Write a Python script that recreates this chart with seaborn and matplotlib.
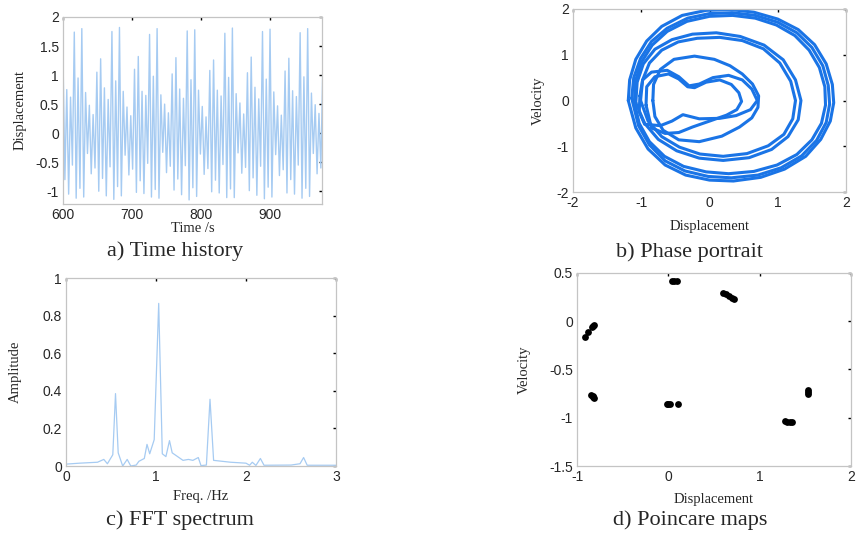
import numpy as np
import pandas as pd
import seaborn as sns
import matplotlib.pyplot as plt
from matplotlib.ticker import FormatStrFormatter

# ---------------- Data ----------------
# a) time history: successive maxima / minima of the displacement signal
th_start = 600.0
th_half_cycle = 2.725          # s between a maximum and the next minimum
th_peaks = [
    1.30, 0.75, 0.62, 1.74, 0.95, 1.80, 0.70, 0.48, 0.32, 1.05,
    1.28, 0.78, 0.58, 1.75, 0.90, 1.82, 0.72, 0.45, 0.30, 1.10,
    1.32, 0.72, 0.65, 1.70, 0.98, 1.80, 0.66, 0.50, 0.35, 1.02,
    1.30, 0.76, 0.60, 1.76, 0.92, 1.78, 0.74, 0.46, 0.28, 1.08,
    1.26, 0.74, 0.64, 1.72, 0.96, 1.81, 0.68, 0.52, 0.33, 1.04,
    1.31, 0.79, 0.59, 1.75, 0.93, 1.79, 0.71, 0.47, 0.31, 1.07,
    1.29, 0.73, 0.63, 1.73, 0.97, 1.80, 0.69, 0.49, 0.34, 1.06,
]
th_troughs = [
    -0.80, -1.05, -0.55, -1.12, -0.95, -1.10, -0.35, -0.70, -0.60, -1.00,
    -0.78, -1.08, -0.58, -1.14, -0.92, -1.08, -0.38, -0.72, -0.62, -1.02,
    -0.82, -1.04, -0.52, -1.10, -0.97, -1.12, -0.33, -0.68, -0.57, -0.98,
    -0.79, -1.06, -0.56, -1.15, -0.94, -1.09, -0.36, -0.71, -0.61, -1.01,
    -0.81, -1.03, -0.54, -1.11, -0.96, -1.11, -0.34, -0.69, -0.59, -0.99,
    -0.77, -1.07, -0.57, -1.13, -0.93, -1.10, -0.37, -0.73, -0.63, -1.03,
    -0.80, -1.05, -0.55, -1.12, -0.95, -1.09, -0.35, -0.70, -0.60, -1.00,
]

# b) phase portrait: traced loops (displacement, velocity)
loop_outer_a = [(-1.19, 0.00), (-1.17, 0.45), (-1.08, 0.90), (-0.92, 1.30), (-0.70, 1.62),
                (-0.40, 1.86), (-0.05, 1.97), (0.30, 1.99), (0.65, 1.93), (1.00, 1.78),
                (1.30, 1.55), (1.54, 1.22), (1.71, 0.80), (1.80, 0.35), (1.82, -0.05),
                (1.77, -0.45), (1.63, -0.85), (1.41, -1.22), (1.10, -1.50), (0.75, -1.68),
                (0.35, -1.76), (0.00, -1.74), (-0.35, -1.63), (-0.65, -1.41), (-0.90, -1.06),
                (-1.08, -0.60), (-1.19, 0.00)]
loop_outer_b = [(-1.14, 0.05), (-1.11, 0.50), (-1.01, 0.92), (-0.85, 1.29), (-0.62, 1.58),
                (-0.32, 1.80), (0.00, 1.90), (0.33, 1.92), (0.67, 1.86), (1.00, 1.71),
                (1.28, 1.48), (1.50, 1.16), (1.66, 0.76), (1.74, 0.33), (1.76, -0.08),
                (1.71, -0.48), (1.57, -0.87), (1.35, -1.21), (1.05, -1.47), (0.71, -1.63),
                (0.32, -1.69), (-0.02, -1.66), (-0.36, -1.54), (-0.65, -1.32), (-0.88, -0.97),
                (-1.04, -0.55), (-1.14, 0.05)]
loop_outer_c = [(-1.10, -0.05), (-1.09, 0.40), (-1.00, 0.83), (-0.84, 1.21), (-0.62, 1.51),
                (-0.33, 1.73), (0.00, 1.84), (0.34, 1.86), (0.67, 1.80), (0.98, 1.65),
                (1.25, 1.42), (1.46, 1.10), (1.61, 0.72), (1.69, 0.30), (1.70, -0.10),
                (1.64, -0.50), (1.50, -0.86), (1.28, -1.18), (0.99, -1.41), (0.65, -1.55),
                (0.28, -1.60), (-0.05, -1.56), (-0.38, -1.44), (-0.66, -1.22), (-0.88, -0.90),
                (-1.03, -0.50), (-1.10, -0.05)]
loop_mid_a = [(-1.08, -0.05), (-1.06, 0.40), (-0.97, 0.80), (-0.80, 1.12), (-0.55, 1.33),
              (-0.25, 1.45), (0.10, 1.48), (0.45, 1.40), (0.80, 1.21), (1.08, 0.89),
              (1.26, 0.45), (1.34, 0.00), (1.30, -0.42), (1.15, -0.79), (0.91, -1.07),
              (0.58, -1.25), (0.20, -1.31), (-0.15, -1.26), (-0.48, -1.10), (-0.75, -0.85),
              (-0.95, -0.50), (-1.08, -0.05)]
loop_mid_b = [(-1.01, 0.00), (-0.98, 0.45), (-0.88, 0.82), (-0.70, 1.10), (-0.46, 1.28),
              (-0.18, 1.36), (0.15, 1.38), (0.48, 1.31), (0.79, 1.13), (1.03, 0.82),
              (1.19, 0.42), (1.26, 0.00), (1.22, -0.40), (1.09, -0.74), (0.86, -0.99),
              (0.55, -1.16), (0.20, -1.22), (-0.14, -1.17), (-0.44, -1.02), (-0.70, -0.79),
              (-0.90, -0.45), (-1.01, 0.00)]
loop_inner = [(-0.83, 0.00), (-0.82, 0.35), (-0.72, 0.68), (-0.52, 0.90), (-0.22, 0.97),
              (0.07, 0.90), (0.30, 0.76), (0.48, 0.58), (0.63, 0.36), (0.72, 0.10),
              (0.71, -0.15), (0.62, -0.38), (0.44, -0.58), (0.18, -0.78), (-0.15, -0.90),
              (-0.45, -0.86), (-0.68, -0.65), (-0.80, -0.35), (-0.83, 0.00)]
loop_dip_a = [(-1.02, 0.10), (-0.98, 0.45), (-0.85, 0.62), (-0.62, 0.66), (-0.45, 0.52),
              (-0.30, 0.32), (-0.15, 0.36), (0.05, 0.50), (0.28, 0.55), (0.48, 0.45),
              (0.62, 0.25), (0.70, 0.00), (0.60, -0.20), (0.39, -0.33), (0.15, -0.39),
              (-0.15, -0.40), (-0.39, -0.31), (-0.55, -0.45), (-0.72, -0.55), (-0.95, -0.52),
              (-1.03, -0.25), (-1.02, 0.10)]
loop_dip_b = [(-0.93, -0.10), (-0.92, 0.30), (-0.80, 0.52), (-0.60, 0.58), (-0.45, 0.47),
              (-0.32, 0.30), (-0.22, 0.28), (-0.05, 0.40), (0.15, 0.45), (0.32, 0.35),
              (0.43, 0.17), (0.47, -0.02), (0.40, -0.20), (0.25, -0.32), (0.00, -0.45),
              (-0.25, -0.58), (-0.45, -0.70), (-0.65, -0.72), (-0.85, -0.60), (-0.93, -0.10)]
phase_loops = {
    "outer_a": loop_outer_a, "outer_b": loop_outer_b, "outer_c": loop_outer_c,
    "mid_a": loop_mid_a, "mid_b": loop_mid_b, "inner": loop_inner,
    "dip_a": loop_dip_a, "dip_b": loop_dip_b,
}

# c) FFT spectrum
fft_freq = [0.00, 0.15, 0.35, 0.42, 0.46, 0.52, 0.55, 0.58, 0.63, 0.68, 0.72, 0.78,
            0.81, 0.87, 0.90, 0.93, 0.98, 1.03, 1.07, 1.11, 1.15, 1.18, 1.30, 1.36,
            1.41, 1.47, 1.50, 1.56, 1.60, 1.64, 1.83, 2.00, 2.04, 2.07, 2.11, 2.16,
            2.20, 2.50, 2.60, 2.64, 2.68, 3.00]
fft_amp = [0.010, 0.015, 0.020, 0.035, 0.012, 0.060, 0.385, 0.070, 0.000, 0.035, 0.000, 0.005,
           0.025, 0.040, 0.115, 0.065, 0.140, 0.865, 0.065, 0.050, 0.135, 0.070, 0.030, 0.035,
           0.030, 0.045, 0.002, 0.005, 0.355, 0.030, 0.020, 0.015, 0.004, 0.020, 0.003, 0.040,
           0.004, 0.005, 0.012, 0.045, 0.004, 0.004]

# d) Poincare section points
pc_disp = [-0.91, -0.88, -0.84, -0.82, -0.81, -0.85, -0.83, -0.82, -0.81,
           -0.02, 0.00, 0.02, 0.11, 0.04, 0.06, 0.09,
           0.60, 0.63, 0.66, 0.70, 0.72, 1.28, 1.30, 1.33, 1.35, 1.53, 1.53, 1.53]
pc_vel = [-0.16, -0.11, -0.06, -0.05, -0.04, -0.76, -0.77, -0.79, -0.80,
          -0.855, -0.855, -0.855, -0.855, 0.415, 0.415, 0.415,
          0.29, 0.28, 0.265, 0.24, 0.23, -1.035, -1.04, -1.04, -1.04, -0.71, -0.73, -0.75]

# ---------------- Build tables ----------------
th_disp = np.empty(len(th_peaks) * 2)
th_disp[0::2] = th_peaks
th_disp[1::2] = th_troughs
th_df = pd.DataFrame({"t": th_start + th_half_cycle * np.arange(len(th_disp)), "x": th_disp})

rows = []
for name, pts in phase_loops.items():
    for i, (x, v) in enumerate(pts):
        rows.append({"loop": name, "order": i, "x": x, "v": v})
phase_df = pd.DataFrame(rows)

fft_df = pd.DataFrame({"f": fft_freq, "A": fft_amp})
pc_df = pd.DataFrame({"x": pc_disp, "v": pc_vel})

# ---------------- Style ----------------
sns.set_style("white")
plt.rcParams["font.family"] = ["Liberation Sans", "DejaVu Sans"]
plt.rcParams["axes.unicode_minus"] = False

light_blue = "#a6cbf2"
strong_blue = "#1a74e6"
serif = ["Liberation Serif", "DejaVu Serif"]

W, H = 858, 539
fig = plt.figure(figsize=(W / 100, H / 100), dpi=100)


def box(px_left, px_top, px_right, px_bottom):
    return [px_left / W, 1 - px_bottom / H, (px_right - px_left) / W, (px_bottom - px_top) / H]


def matlab_axes(ax):
    for s in ax.spines.values():
        s.set_color("#c4c4c4")
        s.set_linewidth(0.9)
        s.set_visible(True)
    ax.tick_params(direction="in", length=2.5, width=1.0, color="black",
                   labelsize=10, top=True, right=True, pad=3)


ax_a = fig.add_axes(box(63, 17, 322, 204))
ax_b = fig.add_axes(box(573, 9, 846, 192))
ax_c = fig.add_axes(box(66, 278, 336, 466))
ax_d = fig.add_axes(box(577, 273, 851, 466))

# a) Time history
sns.lineplot(data=th_df, x="t", y="x", ax=ax_a, color=light_blue, linewidth=1.0,
             estimator=None, sort=False)
ax_a.set_xlim(600, 975)
ax_a.set_ylim(-1.22, 2)
ax_a.set_xticks([600, 700, 800, 900])
ax_a.set_yticks([-1, -0.5, 0, 0.5, 1, 1.5, 2])
ax_a.yaxis.set_major_formatter(FormatStrFormatter("%g"))
ax_a.set_xlabel("Time /s", family=serif, fontsize=10.5, labelpad=0)
ax_a.set_ylabel("Displacement", family=serif, fontsize=10.5, labelpad=6)

# b) Phase portrait
sns.lineplot(data=phase_df, x="x", y="v", units="loop", ax=ax_b, color=strong_blue,
             linewidth=2.2, estimator=None, sort=False)
ax_b.set_xlim(-2, 2)
ax_b.set_ylim(-2, 2)
ax_b.set_xticks([-2, -1, 0, 1, 2])
ax_b.set_yticks([-2, -1, 0, 1, 2])
ax_b.set_xlabel("Displacement", family=serif, fontsize=10.5, labelpad=7)
ax_b.set_ylabel("Velocity", family=serif, fontsize=10.5, labelpad=8)

# c) FFT spectrum
sns.lineplot(data=fft_df, x="f", y="A", ax=ax_c, color=light_blue, linewidth=0.9,
             estimator=None, sort=False)
ax_c.set_xlim(0, 3)
ax_c.set_ylim(0, 1)
ax_c.set_xticks([0, 1, 2, 3])
ax_c.set_yticks([0, 0.2, 0.4, 0.6, 0.8, 1])
ax_c.yaxis.set_major_formatter(FormatStrFormatter("%g"))
ax_c.set_xlabel("Freq. /Hz", family=serif, fontsize=10.5, labelpad=4)
ax_c.set_ylabel("Amplitude", family=serif, fontsize=10.5, labelpad=15)

# d) Poincare maps
sns.scatterplot(data=pc_df, x="x", y="v", ax=ax_d, color="black", s=24,
                edgecolor="black", linewidth=0)
ax_d.set_xlim(-1, 2)
ax_d.set_ylim(-1.5, 0.5)
ax_d.set_xticks([-1, 0, 1, 2])
ax_d.set_yticks([-1.5, -1, -0.5, 0, 0.5])
ax_d.yaxis.set_major_formatter(FormatStrFormatter("%g"))
ax_d.set_xlabel("Displacement", family=serif, fontsize=10.5, labelpad=6)
ax_d.set_ylabel("Velocity", family=serif, fontsize=10.5, labelpad=13)

for ax in (ax_a, ax_b, ax_c, ax_d):
    matlab_axes(ax)

# Sub-figure captions
captions = [("a) Time history", 175, 251), ("b) Phase portrait", 690, 252),
            ("c) FFT spectrum", 180, 520), ("d) Poincare maps", 690, 520)]
for text, cx, cy in captions:
    fig.text(cx / W, 1 - cy / H, text, family=serif, fontsize=16, ha="center", va="center")

fig.savefig("out.png", dpi=100, facecolor="white")
